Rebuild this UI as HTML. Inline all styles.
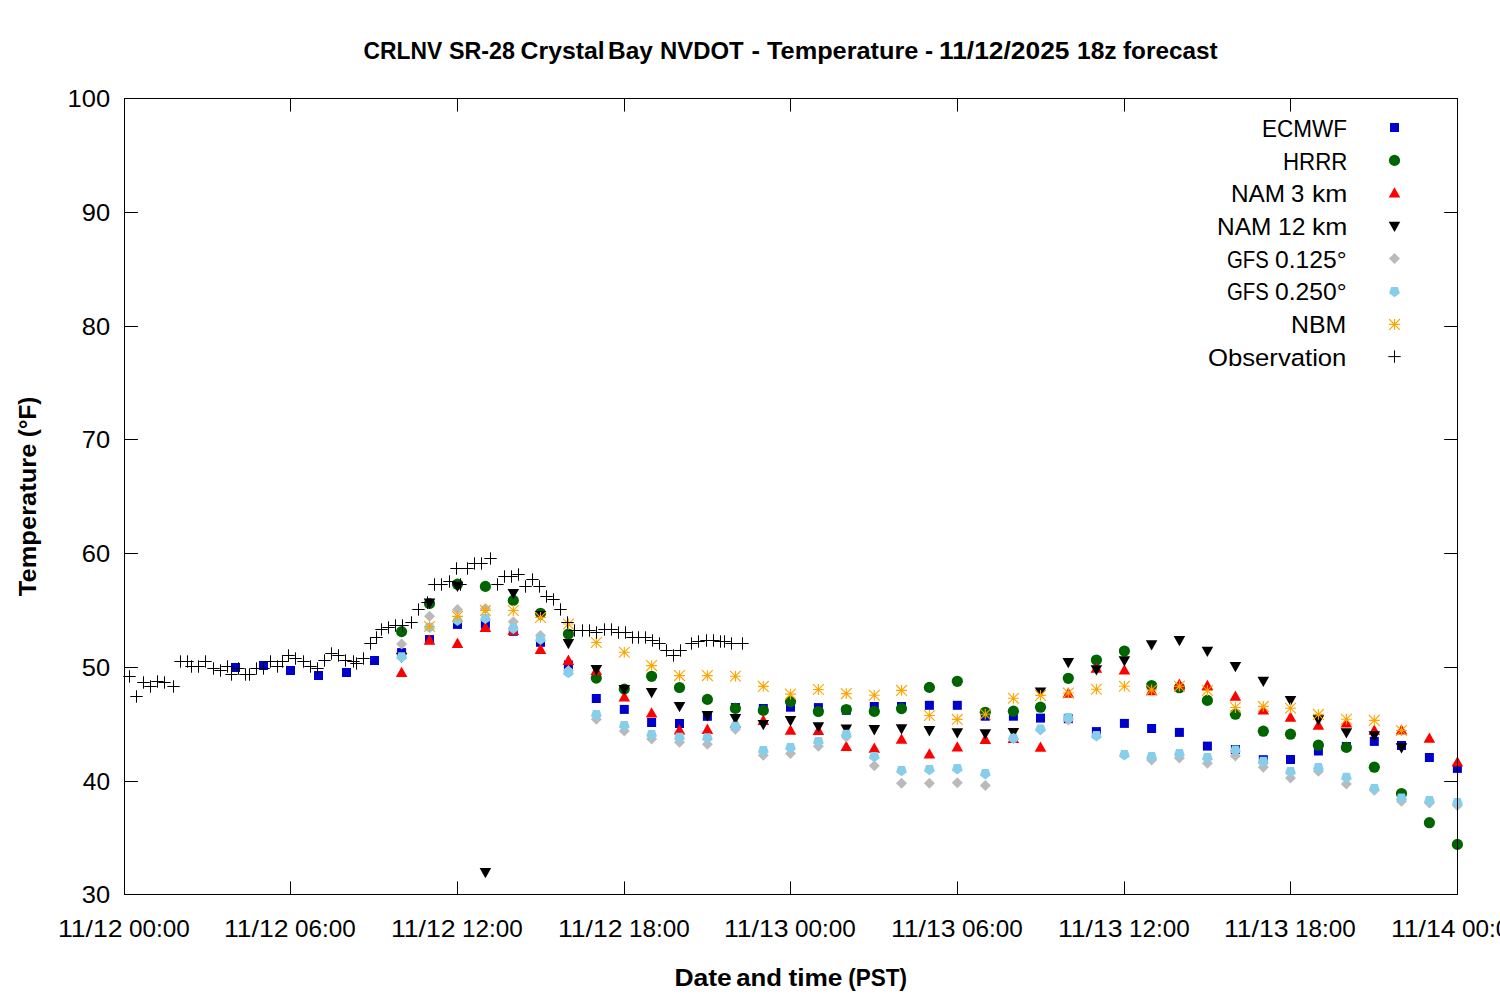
<!DOCTYPE html>
<html><head><meta charset="utf-8"><title>CRLNV SR-28 Crystal Bay NVDOT - Temperature</title>
<style>
html,body{margin:0;padding:0;background:#fff;}
body{width:1500px;height:1000px;overflow:hidden;}
svg{display:block;}
text{font-family:"Liberation Sans",Arial,sans-serif;fill:#000;}
.b{font-weight:bold;}
</style></head><body>
<svg width="1500" height="1000" viewBox="0 0 1500 1000">
<rect width="1500" height="1000" fill="#fff"/>
<g fill="#0000cd"><rect x="231" y="663" width="9" height="9"/><rect x="259" y="661" width="9" height="9"/><rect x="286" y="666" width="9" height="9"/><rect x="314" y="671" width="9" height="9"/><rect x="342" y="668" width="9" height="9"/><rect x="370" y="656" width="9" height="9"/><rect x="397.1" y="648.1" width="9" height="9"/><rect x="425" y="635.1" width="9" height="9"/><rect x="453" y="619.9" width="9" height="9"/><rect x="480.9" y="619.6" width="9" height="9"/><rect x="508.8" y="626.8" width="9" height="9"/><rect x="536" y="637.8" width="9" height="9"/><rect x="563.9" y="660.5" width="9" height="9"/><rect x="591.8" y="694" width="9" height="9"/><rect x="619.8" y="704.9" width="9" height="9"/><rect x="647.1" y="718" width="9" height="9"/><rect x="675" y="719" width="9" height="9"/><rect x="702.9" y="711.8" width="9" height="9"/><rect x="730.9" y="703" width="9" height="9"/><rect x="758.8" y="704" width="9" height="9"/><rect x="786" y="702.7" width="9" height="9"/><rect x="813.9" y="703.1" width="9" height="9"/><rect x="841.8" y="705.8" width="9" height="9"/><rect x="869.8" y="702" width="9" height="9"/><rect x="897" y="702" width="9" height="9"/><rect x="924.9" y="700.8" width="9" height="9"/><rect x="952.8" y="700.8" width="9" height="9"/><rect x="980.8" y="711.7" width="9" height="9"/><rect x="1008.9" y="711.7" width="9" height="9"/><rect x="1036" y="713.6" width="9" height="9"/><rect x="1063.8" y="714.2" width="9" height="9"/><rect x="1091.9" y="727.1" width="9" height="9"/><rect x="1119.9" y="718.9" width="9" height="9"/><rect x="1147.1" y="724" width="9" height="9"/><rect x="1174.9" y="727.9" width="9" height="9"/><rect x="1202.9" y="741.6" width="9" height="9"/><rect x="1230.9" y="745" width="9" height="9"/><rect x="1258.8" y="755.2" width="9" height="9"/><rect x="1286" y="755" width="9" height="9"/><rect x="1313.9" y="746.5" width="9" height="9"/><rect x="1341.9" y="742" width="9" height="9"/><rect x="1369.8" y="736.9" width="9" height="9"/><rect x="1397" y="741" width="9" height="9"/><rect x="1424.9" y="753" width="9" height="9"/><rect x="1452.9" y="763.9" width="9" height="9"/></g>
<g fill="#0000cd"><rect x="1390" y="123" width="9" height="9"/></g>
<g fill="#006400"><circle cx="401.6" cy="631.6" r="5.6"/><circle cx="429.5" cy="603.5" r="5.6"/><circle cx="457.5" cy="584.2" r="5.6"/><circle cx="485.4" cy="586.4" r="5.6"/><circle cx="513.3" cy="600.4" r="5.6"/><circle cx="540.5" cy="613.3" r="5.6"/><circle cx="568.4" cy="634" r="5.6"/><circle cx="596.3" cy="678.1" r="5.6"/><circle cx="624.3" cy="689.1" r="5.6"/><circle cx="651.6" cy="676.3" r="5.6"/><circle cx="679.5" cy="687.5" r="5.6"/><circle cx="707.4" cy="699.4" r="5.6"/><circle cx="735.4" cy="708.4" r="5.6"/><circle cx="763.3" cy="710.4" r="5.6"/><circle cx="790.5" cy="701.6" r="5.6"/><circle cx="818.4" cy="711.5" r="5.6"/><circle cx="846.3" cy="709.5" r="5.6"/><circle cx="874.3" cy="711.4" r="5.6"/><circle cx="901.5" cy="708.6" r="5.6"/><circle cx="929.4" cy="687.4" r="5.6"/><circle cx="957.3" cy="681.3" r="5.6"/><circle cx="985.3" cy="712.3" r="5.6"/><circle cx="1013.4" cy="711.2" r="5.6"/><circle cx="1040.5" cy="707.2" r="5.6"/><circle cx="1068.3" cy="678.3" r="5.6"/><circle cx="1096.4" cy="660" r="5.6"/><circle cx="1124.4" cy="651" r="5.6"/><circle cx="1151.6" cy="685.5" r="5.6"/><circle cx="1179.4" cy="687.7" r="5.6"/><circle cx="1207.4" cy="700.4" r="5.6"/><circle cx="1235.4" cy="714.2" r="5.6"/><circle cx="1263.3" cy="731.2" r="5.6"/><circle cx="1290.5" cy="734.2" r="5.6"/><circle cx="1318.4" cy="745.2" r="5.6"/><circle cx="1346.4" cy="747.4" r="5.6"/><circle cx="1374.3" cy="767.2" r="5.6"/><circle cx="1401.5" cy="793.5" r="5.6"/><circle cx="1429.4" cy="822.7" r="5.6"/><circle cx="1457.4" cy="844.4" r="5.6"/></g>
<g fill="#006400"><circle cx="1394.5" cy="160.4" r="5.6"/></g>
<g fill="#ff0000"><path d="M401.6 666.8L407.4 677.1H395.8Z"/><path d="M429.5 634.4L435.3 644.7H423.7Z"/><path d="M457.5 637.6L463.3 647.9H451.7Z"/><path d="M485.4 621.6L491.2 631.9H479.6Z"/><path d="M513.3 624.6L519.1 634.9H507.5Z"/><path d="M540.5 643.6L546.3 653.9H534.7Z"/><path d="M568.4 654.6L574.2 664.9H562.6Z"/><path d="M596.3 664.7L602.1 675H590.5Z"/><path d="M624.3 691.1L630.1 701.4H618.5Z"/><path d="M651.6 707.2L657.4 717.5H645.8Z"/><path d="M679.5 724.3L685.3 734.6H673.7Z"/><path d="M707.4 723.6L713.2 733.9H701.6Z"/><path d="M735.4 717.5L741.2 727.8H729.6Z"/><path d="M763.3 714.6L769.1 724.9H757.5Z"/><path d="M790.5 724.5L796.3 734.8H784.7Z"/><path d="M818.4 724.7L824.2 735H812.6Z"/><path d="M846.3 740.7L852.1 751H840.5Z"/><path d="M874.3 742.5L880.1 752.8H868.5Z"/><path d="M901.5 733.4L907.3 743.7H895.7Z"/><path d="M929.4 748.3L935.2 758.6H923.6Z"/><path d="M957.3 741.2L963.1 751.5H951.5Z"/><path d="M985.3 733.6L991.1 743.9H979.5Z"/><path d="M1013.4 732.6L1019.2 742.9H1007.6Z"/><path d="M1040.5 741.4L1046.3 751.7H1034.7Z"/><path d="M1068.3 687.5L1074.1 697.8H1062.5Z"/><path d="M1096.4 662.4L1102.2 672.7H1090.6Z"/><path d="M1124.4 664.2L1130.2 674.5H1118.6Z"/><path d="M1151.6 684.9L1157.4 695.2H1145.8Z"/><path d="M1179.4 678.6L1185.2 688.9H1173.6Z"/><path d="M1207.4 679.7L1213.2 690H1201.6Z"/><path d="M1235.4 690.4L1241.2 700.7H1229.6Z"/><path d="M1263.3 704.2L1269.1 714.5H1257.5Z"/><path d="M1290.5 711.4L1296.3 721.7H1284.7Z"/><path d="M1318.4 719.4L1324.2 729.7H1312.6Z"/><path d="M1346.4 717.2L1352.2 727.5H1340.6Z"/><path d="M1374.3 724.4L1380.1 734.7H1368.5Z"/><path d="M1401.5 724.3L1407.3 734.6H1395.7Z"/><path d="M1429.4 732.4L1435.2 742.7H1423.6Z"/><path d="M1457.4 756.3L1463.2 766.6H1451.6Z"/></g>
<g fill="#ff0000"><path d="M1394.5 187.2L1400.3 197.5H1388.7Z"/></g>
<g fill="#000000"><path d="M401.6 663.1L407.4 652.8H395.8Z"/><path d="M429.5 608.7L435.3 598.4H423.7Z"/><path d="M457.5 592.1L463.3 581.8H451.7Z"/><path d="M485.4 878.3L491.2 868H479.6Z"/><path d="M513.3 599.2L519.1 588.9H507.5Z"/><path d="M540.5 621.3L546.3 611H534.7Z"/><path d="M568.4 649.3L574.2 639H562.6Z"/><path d="M596.3 675.4L602.1 665.1H590.5Z"/><path d="M624.3 695.3L630.1 685H618.5Z"/><path d="M651.6 698.3L657.4 688H645.8Z"/><path d="M679.5 712.3L685.3 702H673.7Z"/><path d="M707.4 721.4L713.2 711.1H701.6Z"/><path d="M735.4 724.4L741.2 714.1H729.6Z"/><path d="M763.3 730.3L769.1 720H757.5Z"/><path d="M790.5 726.4L796.3 716.1H784.7Z"/><path d="M818.4 732.5L824.2 722.2H812.6Z"/><path d="M846.3 734.7L852.1 724.4H840.5Z"/><path d="M874.3 735.4L880.1 725.1H868.5Z"/><path d="M901.5 734.5L907.3 724.2H895.7Z"/><path d="M929.4 736.4L935.2 726.1H923.6Z"/><path d="M957.3 738.6L963.1 728.3H951.5Z"/><path d="M985.3 739.6L991.1 729.3H979.5Z"/><path d="M1013.4 738.3L1019.2 728H1007.6Z"/><path d="M1040.5 697.7L1046.3 687.4H1034.7Z"/><path d="M1068.3 668.3L1074.1 658H1062.5Z"/><path d="M1096.4 675.5L1102.2 665.2H1090.6Z"/><path d="M1124.4 666.5L1130.2 656.2H1118.6Z"/><path d="M1151.6 650.5L1157.4 640.2H1145.8Z"/><path d="M1179.4 646.3L1185.2 636H1173.6Z"/><path d="M1207.4 657.1L1213.2 646.8H1201.6Z"/><path d="M1235.4 672.3L1241.2 662H1229.6Z"/><path d="M1263.3 687L1269.1 676.7H1257.5Z"/><path d="M1290.5 706.3L1296.3 696H1284.7Z"/><path d="M1318.4 725.5L1324.2 715.2H1312.6Z"/><path d="M1346.4 738.5L1352.2 728.2H1340.6Z"/><path d="M1374.3 741.5L1380.1 731.2H1368.5Z"/><path d="M1401.5 753.5L1407.3 743.2H1395.7Z"/></g>
<g fill="#000000"><path d="M1394.5 232.1L1400.3 221.8H1388.7Z"/></g>
<g fill="#bababa"><path d="M401.6 638.6L407.1 644.1L401.6 649.6L396.1 644.1Z"/><path d="M429.5 610.8L435 616.3L429.5 621.8L424 616.3Z"/><path d="M457.5 603.9L463 609.4L457.5 614.9L452 609.4Z"/><path d="M485.4 602.9L490.9 608.4L485.4 613.9L479.9 608.4Z"/><path d="M513.3 616.2L518.8 621.7L513.3 627.2L507.8 621.7Z"/><path d="M540.5 630L546 635.5L540.5 641L535 635.5Z"/><path d="M568.4 664.9L573.9 670.4L568.4 675.9L562.9 670.4Z"/><path d="M596.3 713.8L601.8 719.3L596.3 724.8L590.8 719.3Z"/><path d="M624.3 725.6L629.8 731.1L624.3 736.6L618.8 731.1Z"/><path d="M651.6 733.5L657.1 739L651.6 744.5L646.1 739Z"/><path d="M679.5 736.7L685 742.2L679.5 747.7L674 742.2Z"/><path d="M707.4 738.8L712.9 744.3L707.4 749.8L701.9 744.3Z"/><path d="M735.4 723.8L740.9 729.3L735.4 734.8L729.9 729.3Z"/><path d="M763.3 749.8L768.8 755.3L763.3 760.8L757.8 755.3Z"/><path d="M790.5 747.9L796 753.4L790.5 758.9L785 753.4Z"/><path d="M818.4 740.7L823.9 746.2L818.4 751.7L812.9 746.2Z"/><path d="M846.3 731.6L851.8 737.1L846.3 742.6L840.8 737.1Z"/><path d="M874.3 760.3L879.8 765.8L874.3 771.3L868.8 765.8Z"/><path d="M901.5 777.8L907 783.3L901.5 788.8L896 783.3Z"/><path d="M929.4 777.8L934.9 783.3L929.4 788.8L923.9 783.3Z"/><path d="M957.3 777.2L962.8 782.7L957.3 788.2L951.8 782.7Z"/><path d="M985.3 780L990.8 785.5L985.3 791L979.8 785.5Z"/><path d="M1013.4 732.8L1018.9 738.3L1013.4 743.8L1007.9 738.3Z"/><path d="M1040.5 724.6L1046 730.1L1040.5 735.6L1035 730.1Z"/><path d="M1068.3 714.5L1073.8 720L1068.3 725.5L1062.8 720Z"/><path d="M1151.6 754.5L1157.1 760L1151.6 765.5L1146.1 760Z"/><path d="M1179.4 752.5L1184.9 758L1179.4 763.5L1173.9 758Z"/><path d="M1207.4 757.8L1212.9 763.3L1207.4 768.8L1201.9 763.3Z"/><path d="M1235.4 750.6L1240.9 756.1L1235.4 761.6L1229.9 756.1Z"/><path d="M1263.3 761.8L1268.8 767.3L1263.3 772.8L1257.8 767.3Z"/><path d="M1290.5 772.6L1296 778.1L1290.5 783.6L1285 778.1Z"/><path d="M1318.4 765.8L1323.9 771.3L1318.4 776.8L1312.9 771.3Z"/><path d="M1346.4 778.5L1351.9 784L1346.4 789.5L1340.9 784Z"/><path d="M1374.3 784.8L1379.8 790.3L1374.3 795.8L1368.8 790.3Z"/><path d="M1401.5 795.8L1407 801.3L1401.5 806.8L1396 801.3Z"/><path d="M1429.4 797.6L1434.9 803.1L1429.4 808.6L1423.9 803.1Z"/><path d="M1457.4 799.9L1462.9 805.4L1457.4 810.9L1451.9 805.4Z"/></g>
<g fill="#bababa"><path d="M1394.5 253.1L1400 258.6L1394.5 264.1L1389 258.6Z"/></g>
<g fill="#87ceeb"><path d="M401.6 662.5L396.18 658.56L398.25 652.19L404.95 652.19L407.02 658.56Z"/><path d="M429.5 633L424.08 629.06L426.15 622.69L432.85 622.69L434.92 629.06Z"/><path d="M457.5 626L452.08 622.06L454.15 615.69L460.85 615.69L462.92 622.06Z"/><path d="M485.4 624.1L479.98 620.16L482.05 613.79L488.75 613.79L490.82 620.16Z"/><path d="M513.3 634L507.88 630.06L509.95 623.69L516.65 623.69L518.72 630.06Z"/><path d="M540.5 645L535.08 641.06L537.15 634.69L543.85 634.69L545.92 641.06Z"/><path d="M568.4 678.2L562.98 674.26L565.05 667.89L571.75 667.89L573.82 674.26Z"/><path d="M596.3 720.2L590.88 716.26L592.95 709.89L599.65 709.89L601.72 716.26Z"/><path d="M624.3 731.2L618.88 727.26L620.95 720.89L627.65 720.89L629.72 727.26Z"/><path d="M651.6 740.2L646.18 736.26L648.25 729.89L654.95 729.89L657.02 736.26Z"/><path d="M679.5 743.1L674.08 739.16L676.15 732.79L682.85 732.79L684.92 739.16Z"/><path d="M707.4 743.6L701.98 739.66L704.05 733.29L710.75 733.29L712.82 739.66Z"/><path d="M735.4 732L729.98 728.06L732.05 721.69L738.75 721.69L740.82 728.06Z"/><path d="M763.3 756.2L757.88 752.26L759.95 745.89L766.65 745.89L768.72 752.26Z"/><path d="M790.5 753.2L785.08 749.26L787.15 742.89L793.85 742.89L795.92 749.26Z"/><path d="M818.4 747.2L812.98 743.26L815.05 736.89L821.75 736.89L823.82 743.26Z"/><path d="M846.3 740.1L840.88 736.16L842.95 729.79L849.65 729.79L851.72 736.16Z"/><path d="M874.3 762.2L868.88 758.26L870.95 751.89L877.65 751.89L879.72 758.26Z"/><path d="M901.5 776.3L896.08 772.36L898.15 765.99L904.85 765.99L906.92 772.36Z"/><path d="M929.4 775.3L923.98 771.36L926.05 764.99L932.75 764.99L934.82 771.36Z"/><path d="M957.3 774.4L951.88 770.46L953.95 764.09L960.65 764.09L962.72 770.46Z"/><path d="M985.3 779.4L979.88 775.46L981.95 769.09L988.65 769.09L990.72 775.46Z"/><path d="M1013.4 744L1007.98 740.06L1010.05 733.69L1016.75 733.69L1018.82 740.06Z"/><path d="M1040.5 734.7L1035.08 730.76L1037.15 724.39L1043.85 724.39L1045.92 730.76Z"/><path d="M1068.3 723.2L1062.88 719.26L1064.95 712.89L1071.65 712.89L1073.72 719.26Z"/><path d="M1096.4 741.4L1090.98 737.46L1093.05 731.09L1099.75 731.09L1101.82 737.46Z"/><path d="M1124.4 760.4L1118.98 756.46L1121.05 750.09L1127.75 750.09L1129.82 756.46Z"/><path d="M1151.6 762.4L1146.18 758.46L1148.25 752.09L1154.95 752.09L1157.02 758.46Z"/><path d="M1179.4 759.4L1173.98 755.46L1176.05 749.09L1182.75 749.09L1184.82 755.46Z"/><path d="M1207.4 763.4L1201.98 759.46L1204.05 753.09L1210.75 753.09L1212.82 759.46Z"/><path d="M1235.4 755.9L1229.98 751.96L1232.05 745.59L1238.75 745.59L1240.82 751.96Z"/><path d="M1263.3 767.1L1257.88 763.16L1259.95 756.79L1266.65 756.79L1268.72 763.16Z"/><path d="M1290.5 777.4L1285.08 773.46L1287.15 767.09L1293.85 767.09L1295.92 773.46Z"/><path d="M1318.4 773.4L1312.98 769.46L1315.05 763.09L1321.75 763.09L1323.82 769.46Z"/><path d="M1346.4 783.1L1340.98 779.16L1343.05 772.79L1349.75 772.79L1351.82 779.16Z"/><path d="M1374.3 794.3L1368.88 790.36L1370.95 783.99L1377.65 783.99L1379.72 790.36Z"/><path d="M1401.5 803.7L1396.08 799.76L1398.15 793.39L1404.85 793.39L1406.92 799.76Z"/><path d="M1429.4 806.2L1423.98 802.26L1426.05 795.89L1432.75 795.89L1434.82 802.26Z"/><path d="M1457.4 808.3L1451.98 804.36L1454.05 797.99L1460.75 797.99L1462.82 804.36Z"/></g>
<g fill="#87ceeb"><path d="M1394.5 297.2L1389.08 293.26L1391.15 286.89L1397.85 286.89L1399.92 293.26Z"/></g>
<path fill="none" stroke="#ffa500" stroke-width="1.1" d="M424.1 626.5h10.8M429.5 621.1v10.8M424.1 621.1l10.8 10.8M424.1 631.9l10.8 -10.8M452.1 616.4h10.8M457.5 611v10.8M452.1 611l10.8 10.8M452.1 621.8l10.8 -10.8M480 610.4h10.8M485.4 605v10.8M480 605l10.8 10.8M480 615.8l10.8 -10.8M507.9 610.5h10.8M513.3 605.1v10.8M507.9 605.1l10.8 10.8M507.9 615.9l10.8 -10.8M535.1 617.4h10.8M540.5 612v10.8M535.1 612l10.8 10.8M535.1 622.8l10.8 -10.8M563 624h10.8M568.4 618.6v10.8M563 618.6l10.8 10.8M563 629.4l10.8 -10.8M590.9 642.5h10.8M596.3 637.1v10.8M590.9 637.1l10.8 10.8M590.9 647.9l10.8 -10.8M618.9 652.3h10.8M624.3 646.9v10.8M618.9 646.9l10.8 10.8M618.9 657.7l10.8 -10.8M646.2 665.6h10.8M651.6 660.2v10.8M646.2 660.2l10.8 10.8M646.2 671l10.8 -10.8M674.1 675.6h10.8M679.5 670.2v10.8M674.1 670.2l10.8 10.8M674.1 681l10.8 -10.8M702 675.6h10.8M707.4 670.2v10.8M702 670.2l10.8 10.8M702 681l10.8 -10.8M730 676.3h10.8M735.4 670.9v10.8M730 670.9l10.8 10.8M730 681.7l10.8 -10.8M757.9 686.4h10.8M763.3 681v10.8M757.9 681l10.8 10.8M757.9 691.8l10.8 -10.8M785.1 694.1h10.8M790.5 688.7v10.8M785.1 688.7l10.8 10.8M785.1 699.5l10.8 -10.8M813 689.5h10.8M818.4 684.1v10.8M813 684.1l10.8 10.8M813 694.9l10.8 -10.8M840.9 693.6h10.8M846.3 688.2v10.8M840.9 688.2l10.8 10.8M840.9 699l10.8 -10.8M868.9 695.3h10.8M874.3 689.9v10.8M868.9 689.9l10.8 10.8M868.9 700.7l10.8 -10.8M896.1 690.4h10.8M901.5 685v10.8M896.1 685l10.8 10.8M896.1 695.8l10.8 -10.8M924 715.5h10.8M929.4 710.1v10.8M924 710.1l10.8 10.8M924 720.9l10.8 -10.8M951.9 719.4h10.8M957.3 714v10.8M951.9 714l10.8 10.8M951.9 724.8l10.8 -10.8M979.9 714.2h10.8M985.3 708.8v10.8M979.9 708.8l10.8 10.8M979.9 719.6l10.8 -10.8M1008 698.3h10.8M1013.4 692.9v10.8M1008 692.9l10.8 10.8M1008 703.7l10.8 -10.8M1035.1 695.4h10.8M1040.5 690v10.8M1035.1 690l10.8 10.8M1035.1 700.8l10.8 -10.8M1062.9 693h10.8M1068.3 687.6v10.8M1062.9 687.6l10.8 10.8M1062.9 698.4l10.8 -10.8M1091 689.2h10.8M1096.4 683.8v10.8M1091 683.8l10.8 10.8M1091 694.6l10.8 -10.8M1119 686.2h10.8M1124.4 680.8v10.8M1119 680.8l10.8 10.8M1119 691.6l10.8 -10.8M1146.2 690h10.8M1151.6 684.6v10.8M1146.2 684.6l10.8 10.8M1146.2 695.4l10.8 -10.8M1174 686.2h10.8M1179.4 680.8v10.8M1174 680.8l10.8 10.8M1174 691.6l10.8 -10.8M1202 690.5h10.8M1207.4 685.1v10.8M1202 685.1l10.8 10.8M1202 695.9l10.8 -10.8M1230 707.5h10.8M1235.4 702.1v10.8M1230 702.1l10.8 10.8M1230 712.9l10.8 -10.8M1257.9 706.4h10.8M1263.3 701v10.8M1257.9 701l10.8 10.8M1257.9 711.8l10.8 -10.8M1285.1 708.2h10.8M1290.5 702.8v10.8M1285.1 702.8l10.8 10.8M1285.1 713.6l10.8 -10.8M1313 714.4h10.8M1318.4 709v10.8M1313 709l10.8 10.8M1313 719.8l10.8 -10.8M1341 719.2h10.8M1346.4 713.8v10.8M1341 713.8l10.8 10.8M1341 724.6l10.8 -10.8M1368.9 720.4h10.8M1374.3 715v10.8M1368.9 715l10.8 10.8M1368.9 725.8l10.8 -10.8M1396.1 730.5h10.8M1401.5 725.1v10.8M1396.1 725.1l10.8 10.8M1396.1 735.9l10.8 -10.8M1389.1 324.4h10.8M1394.5 319v10.8M1389.1 319l10.8 10.8M1389.1 329.8l10.8 -10.8"/>
<path fill="none" stroke="#000" stroke-width="1" d="M123.3 676.5h12.4M129.5 670.3v12.4M130.3 696.5h12.4M136.5 690.3v12.4M137.3 682.5h12.4M143.5 676.3v12.4M144.3 686.5h12.4M150.5 680.3v12.4M151.3 681.5h12.4M157.5 675.3v12.4M158.3 682.5h12.4M164.5 676.3v12.4M167.3 686.5h12.4M173.5 680.3v12.4M174.3 661.5h12.4M180.5 655.3v12.4M181.3 661.5h12.4M187.5 655.3v12.4M185.3 666.5h12.4M191.5 660.3v12.4M192.3 666.5h12.4M198.5 660.3v12.4M199.3 661.5h12.4M205.5 655.3v12.4M207.3 668.5h12.4M213.5 662.3v12.4M214.3 670.5h12.4M220.5 664.3v12.4M221.3 666.5h12.4M227.5 660.3v12.4M225.3 674.5h12.4M231.5 668.3v12.4M232.3 668.5h12.4M238.5 662.3v12.4M239.3 674.5h12.4M245.5 668.3v12.4M243.3 674.5h12.4M249.5 668.3v12.4M250.3 668.5h12.4M256.5 662.3v12.4M257.3 668.5h12.4M263.5 662.3v12.4M264.3 661.5h12.4M270.5 655.3v12.4M271.3 666.5h12.4M277.5 660.3v12.4M276.3 661.5h12.4M282.5 655.3v12.4M282.3 655.5h12.4M288.5 649.3v12.4M289.3 658.5h12.4M295.5 652.3v12.4M297.3 661.5h12.4M303.5 655.3v12.4M304.3 666.5h12.4M310.5 660.3v12.4M311.3 668.5h12.4M317.5 662.3v12.4M318.3 660.5h12.4M324.5 654.3v12.4M325.3 653.5h12.4M331.5 647.3v12.4M332.3 655.5h12.4M338.5 649.3v12.4M339.3 660.5h12.4M345.5 654.3v12.4M347.3 661.5h12.4M353.5 655.3v12.4M350.3 663.5h12.4M356.5 657.3v12.4M357.3 658.5h12.4M363.5 652.3v12.4M364.3 643.5h12.4M370.5 637.3v12.4M370.3 637.5h12.4M376.5 631.3v12.4M375.3 629.5h12.4M381.5 623.3v12.4M382.3 627.5h12.4M388.5 621.3v12.4M389.3 625.5h12.4M395.5 619.3v12.4M396.3 625.5h12.4M402.5 619.3v12.4M405.3 622.5h12.4M411.5 616.3v12.4M412.3 609.5h12.4M418.5 603.3v12.4M421.3 602.5h12.4M427.5 596.3v12.4M428.3 584.5h12.4M434.5 578.3v12.4M435.3 584.5h12.4M441.5 578.3v12.4M443.3 581.5h12.4M449.5 575.3v12.4M450.3 568.5h12.4M456.5 562.3v12.4M454.3 584.5h12.4M460.5 578.3v12.4M461.3 568.5h12.4M467.5 562.3v12.4M468.3 563.5h12.4M474.5 557.3v12.4M475.3 563.5h12.4M481.5 557.3v12.4M484.3 558.5h12.4M490.5 552.3v12.4M491.3 584.5h12.4M497.5 578.3v12.4M498.3 576.5h12.4M504.5 570.3v12.4M505.3 576.5h12.4M511.5 570.3v12.4M512.3 574.5h12.4M518.5 568.3v12.4M519.3 586.5h12.4M525.5 580.3v12.4M526.3 579.5h12.4M532.5 573.3v12.4M533.3 586.5h12.4M539.5 580.3v12.4M540.3 596.5h12.4M546.5 590.3v12.4M547.3 599.5h12.4M553.5 593.3v12.4M554.3 609.5h12.4M560.5 603.3v12.4M561.3 622.5h12.4M567.5 616.3v12.4M568.3 630.5h12.4M574.5 624.3v12.4M576.3 630.5h12.4M582.5 624.3v12.4M583.3 630.5h12.4M589.5 624.3v12.4M590.3 632.5h12.4M596.5 626.3v12.4M598.3 629.5h12.4M604.5 623.3v12.4M605.3 629.5h12.4M611.5 623.3v12.4M612.3 632.5h12.4M618.5 626.3v12.4M619.3 632.5h12.4M625.5 626.3v12.4M626.3 637.5h12.4M632.5 631.3v12.4M632.3 637.5h12.4M638.5 631.3v12.4M639.3 637.5h12.4M645.5 631.3v12.4M646.3 640.5h12.4M652.5 634.3v12.4M653.3 643.5h12.4M659.5 637.3v12.4M660.3 650.5h12.4M666.5 644.3v12.4M667.3 655.5h12.4M673.5 649.3v12.4M674.3 650.5h12.4M680.5 644.3v12.4M685.3 643.5h12.4M691.5 637.3v12.4M692.3 641.5h12.4M698.5 635.3v12.4M700.3 640.5h12.4M706.5 634.3v12.4M707.3 640.5h12.4M713.5 634.3v12.4M714.3 641.5h12.4M720.5 635.3v12.4M718.3 641.5h12.4M724.5 635.3v12.4M725.3 643.5h12.4M731.5 637.3v12.4M736.3 643.5h12.4M742.5 637.3v12.4M1388.3 356.6h12.4M1394.5 350.4v12.4"/>
<path fill="none" stroke="#000" stroke-width="1" d="M124 98.5h13.9M1458 98.5h-13.8M124 212.5h13.9M1458 212.5h-13.8M124 326.5h13.9M1458 326.5h-13.8M124 439.5h13.9M1458 439.5h-13.8M124 553.5h13.9M1458 553.5h-13.8M124 667.5h13.9M1458 667.5h-13.8M124 781.5h13.9M1458 781.5h-13.8M124 894.5h13.9M1458 894.5h-13.8M124.5 894.5v-13.1M124.5 98v13.6M290.5 894.5v-13.1M290.5 98v13.6M457.5 894.5v-13.1M457.5 98v13.6M624.5 894.5v-13.1M624.5 98v13.6M790.5 894.5v-13.1M790.5 98v13.6M957.5 894.5v-13.1M957.5 98v13.6M1124.5 894.5v-13.1M1124.5 98v13.6M1290.5 894.5v-13.1M1290.5 98v13.6M1457.5 894.5v-13.1M1457.5 98v13.6"/>
<rect x="124.5" y="98.5" width="1333" height="796" fill="none" stroke="#000" stroke-width="1"/>
<text id="y30" textLength="28.34" lengthAdjust="spacingAndGlyphs" x="81.8" y="903.3" font-size="23.7">30</text>
<text id="y40" textLength="27.2" lengthAdjust="spacingAndGlyphs" x="82.8" y="790.3" font-size="23.7">40</text>
<text id="y50" textLength="28.34" lengthAdjust="spacingAndGlyphs" x="81.8" y="676.3" font-size="23.7">50</text>
<text id="y60" textLength="28.34" lengthAdjust="spacingAndGlyphs" x="81.8" y="562.3" font-size="23.7">60</text>
<text id="y70" textLength="28.34" lengthAdjust="spacingAndGlyphs" x="81.8" y="448.3" font-size="23.7">70</text>
<text id="y80" textLength="28.34" lengthAdjust="spacingAndGlyphs" x="81.8" y="335.3" font-size="23.7">80</text>
<text id="y90" textLength="28.34" lengthAdjust="spacingAndGlyphs" x="81.8" y="221.3" font-size="23.7">90</text>
<text id="y100" textLength="42.59" lengthAdjust="spacingAndGlyphs" x="67.6" y="107.3" font-size="23.7">100</text>
<text id="xd0" textLength="64.59" lengthAdjust="spacingAndGlyphs" x="57.9" y="936.5" font-size="23.7">11/12</text>
<text id="xt0" textLength="60.8" lengthAdjust="spacingAndGlyphs" x="128.9" y="936.5" font-size="23.7">00:00</text>
<text id="xd1" textLength="64.59" lengthAdjust="spacingAndGlyphs" x="223.9" y="936.5" font-size="23.7">11/12</text>
<text id="xt1" textLength="60.8" lengthAdjust="spacingAndGlyphs" x="294.9" y="936.5" font-size="23.7">06:00</text>
<text id="xd2" textLength="64.59" lengthAdjust="spacingAndGlyphs" x="390.9" y="936.5" font-size="23.7">11/12</text>
<text id="xt2" textLength="60.8" lengthAdjust="spacingAndGlyphs" x="461.9" y="936.5" font-size="23.7">12:00</text>
<text id="xd3" textLength="64.59" lengthAdjust="spacingAndGlyphs" x="557.9" y="936.5" font-size="23.7">11/12</text>
<text id="xt3" textLength="60.8" lengthAdjust="spacingAndGlyphs" x="628.9" y="936.5" font-size="23.7">18:00</text>
<text id="xd4" textLength="64.59" lengthAdjust="spacingAndGlyphs" x="723.9" y="936.5" font-size="23.7">11/13</text>
<text id="xt4" textLength="60.8" lengthAdjust="spacingAndGlyphs" x="794.9" y="936.5" font-size="23.7">00:00</text>
<text id="xd5" textLength="64.59" lengthAdjust="spacingAndGlyphs" x="890.9" y="936.5" font-size="23.7">11/13</text>
<text id="xt5" textLength="60.8" lengthAdjust="spacingAndGlyphs" x="961.9" y="936.5" font-size="23.7">06:00</text>
<text id="xd6" textLength="64.59" lengthAdjust="spacingAndGlyphs" x="1057.9" y="936.5" font-size="23.7">11/13</text>
<text id="xt6" textLength="60.8" lengthAdjust="spacingAndGlyphs" x="1128.9" y="936.5" font-size="23.7">12:00</text>
<text id="xd7" textLength="64.59" lengthAdjust="spacingAndGlyphs" x="1223.9" y="936.5" font-size="23.7">11/13</text>
<text id="xt7" textLength="60.8" lengthAdjust="spacingAndGlyphs" x="1294.9" y="936.5" font-size="23.7">18:00</text>
<text id="xd8" textLength="64.59" lengthAdjust="spacingAndGlyphs" x="1390.9" y="936.5" font-size="23.7">11/14</text>
<text id="xt8" textLength="60.8" lengthAdjust="spacingAndGlyphs" x="1461.9" y="936.5" font-size="23.7">00:00</text>
<text id="L0_0" textLength="85.01" lengthAdjust="spacingAndGlyphs" x="1262" y="137.1" font-size="23.7">ECMWF</text>
<text id="L1_0" textLength="64.38" lengthAdjust="spacingAndGlyphs" x="1283" y="169.74" font-size="23.7">HRRR</text>
<text id="L2_0" textLength="54.08" lengthAdjust="spacingAndGlyphs" x="1231" y="202.38" font-size="23.7">NAM</text>
<text id="L2_1" textLength="13.27" lengthAdjust="spacingAndGlyphs" x="1291" y="202.38" font-size="23.7">3</text>
<text id="L2_2" textLength="35.31" lengthAdjust="spacingAndGlyphs" x="1312" y="202.38" font-size="23.7">km</text>
<text id="L3_0" textLength="54.26" lengthAdjust="spacingAndGlyphs" x="1217" y="235.02" font-size="23.7">NAM</text>
<text id="L3_1" textLength="27.42" lengthAdjust="spacingAndGlyphs" x="1278" y="235.02" font-size="23.7">12</text>
<text id="L3_2" textLength="35.31" lengthAdjust="spacingAndGlyphs" x="1312" y="235.02" font-size="23.7">km</text>
<text id="L4_0" textLength="41.79" lengthAdjust="spacingAndGlyphs" x="1227" y="267.66" font-size="23.7">GFS</text>
<text id="L4_1" textLength="71.55" lengthAdjust="spacingAndGlyphs" x="1275" y="267.66" font-size="23.7">0.125°</text>
<text id="L5_0" textLength="41.79" lengthAdjust="spacingAndGlyphs" x="1227" y="300.3" font-size="23.7">GFS</text>
<text id="L5_1" textLength="71.55" lengthAdjust="spacingAndGlyphs" x="1275" y="300.3" font-size="23.7">0.250°</text>
<text id="L6_0" textLength="55.31" lengthAdjust="spacingAndGlyphs" x="1291" y="332.94" font-size="23.7">NBM</text>
<text id="L7_0" textLength="138.39" lengthAdjust="spacingAndGlyphs" x="1208" y="365.58" font-size="23.7">Observation</text>
<text id="t0" class="b" textLength="78.73" lengthAdjust="spacingAndGlyphs" x="363.6" y="58.5" font-size="23.7">CRLNV</text>
<text id="t1" class="b" textLength="66.05" lengthAdjust="spacingAndGlyphs" x="449" y="58.5" font-size="23.7">SR-28</text>
<text id="t2" class="b" textLength="84.17" lengthAdjust="spacingAndGlyphs" x="520.6" y="58.5" font-size="23.7">Crystal</text>
<text id="t3" class="b" textLength="44.81" lengthAdjust="spacingAndGlyphs" x="608" y="58.5" font-size="23.7">Bay</text>
<text id="t4" class="b" textLength="83.59" lengthAdjust="spacingAndGlyphs" x="660" y="58.5" font-size="23.7">NVDOT</text>
<text id="t5" class="b" textLength="8.51" lengthAdjust="spacingAndGlyphs" x="751.4" y="58.5" font-size="23.7">-</text>
<text id="t6" class="b" textLength="151.44" lengthAdjust="spacingAndGlyphs" x="767" y="58.5" font-size="23.7">Temperature</text>
<text id="t7" class="b" textLength="8.11" lengthAdjust="spacingAndGlyphs" x="925" y="58.5" font-size="23.7">-</text>
<text id="t8" class="b" textLength="130.51" lengthAdjust="spacingAndGlyphs" x="939" y="58.5" font-size="23.7">11/12/2025</text>
<text id="t9" class="b" textLength="39.65" lengthAdjust="spacingAndGlyphs" x="1077" y="58.5" font-size="23.7">18z</text>
<text id="t10" class="b" textLength="94.62" lengthAdjust="spacingAndGlyphs" x="1123" y="58.5" font-size="23.7">forecast</text>
<text id="xl0" class="b" textLength="57.47" lengthAdjust="spacingAndGlyphs" x="674.4" y="985.6" font-size="23.7">Date</text>
<text id="xl1" class="b" textLength="45.77" lengthAdjust="spacingAndGlyphs" x="736.2" y="985.6" font-size="23.7">and</text>
<text id="xl2" class="b" textLength="54.06" lengthAdjust="spacingAndGlyphs" x="788.4" y="985.6" font-size="23.7">time</text>
<text id="xl3" class="b" textLength="58.79" lengthAdjust="spacingAndGlyphs" x="848.2" y="985.6" font-size="23.7">(PST)</text>
<text id="yl0" class="b" textLength="152.73" lengthAdjust="spacingAndGlyphs" transform="translate(36.3 596.24) rotate(-90)" x="0" y="0" font-size="23.7">Temperature</text>
<text id="yl1" class="b" textLength="40.7" lengthAdjust="spacingAndGlyphs" transform="translate(36.3 437.28) rotate(-90)" x="0" y="0" font-size="23.7">(°F)</text>
</svg>
</body></html>
